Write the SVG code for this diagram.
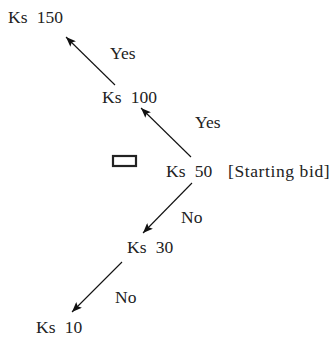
<svg xmlns="http://www.w3.org/2000/svg" width="333" height="338" viewBox="0 0 333 338">
<style>
text{font-family:'Liberation Serif','Tinos','DejaVu Serif','Noto Serif',serif;font-size:17.5px;fill:#222}
.c line{stroke:#111;stroke-width:1.1;fill:none}
</style>
<defs>
<marker id="ah" viewBox="0 0 10 8" refX="10" refY="4" markerWidth="10" markerHeight="8" markerUnits="userSpaceOnUse" orient="auto">
<path d="M0,0 L10,4 L0,8 L2,4 z" fill="#111"/>
</marker>
</defs>
<rect width="333" height="338" fill="#fff"/>
<g class="c" id="connectors">
<line x1="115" y1="85" x2="66" y2="37" marker-end="url(#ah)"/>
<line x1="191" y1="157" x2="141" y2="108" marker-end="url(#ah)"/>
<line x1="192" y1="183" x2="143" y2="233" marker-end="url(#ah)"/>
<line x1="122" y1="262" x2="72" y2="312" marker-end="url(#ah)"/>
</g>
<g id="n150"><text x="8" y="23" word-spacing="5">Ks 150</text></g>
<g id="l1"><text x="110" y="59">Yes</text></g>
<g id="n100"><text x="102" y="103" word-spacing="5">Ks 100</text></g>
<g id="l2"><text x="195" y="128">Yes</text></g>
<g id="box"><rect x="113" y="156" width="23" height="10" fill="none" stroke="#222" stroke-width="2.2"/></g>
<g id="n50"><text x="166" y="177" word-spacing="5">Ks 50</text><text x="228" y="177" letter-spacing="0.6">[Starting bid]</text></g>
<g id="l3"><text x="181" y="223">No</text></g>
<g id="n30"><text x="127" y="253" word-spacing="5">Ks 30</text></g>
<g id="l4"><text x="115" y="303">No</text></g>
<g id="n10"><text x="36" y="333" word-spacing="5">Ks 10</text></g>
</svg>
